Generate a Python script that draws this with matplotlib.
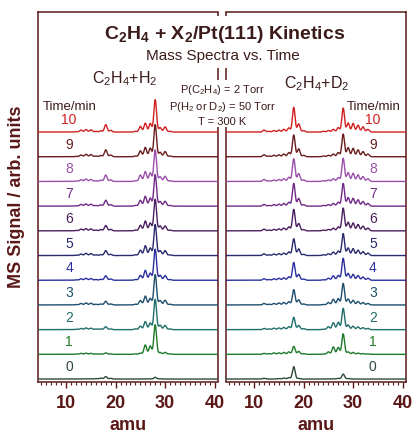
import numpy as np
import matplotlib
matplotlib.use('Agg')
import matplotlib.pyplot as plt
from matplotlib.ticker import MultipleLocator

plt.rcParams['font.family'] = ['Liberation Sans', 'DejaVu Sans']
plt.rcParams['mathtext.fontset'] = 'custom'
plt.rcParams['mathtext.rm'] = 'Liberation Sans'
plt.rcParams['mathtext.it'] = 'Liberation Sans:italic'
plt.rcParams['mathtext.bf'] = 'Liberation Sans:bold'

# time in minutes, one trace per time
times = [0, 1, 2, 3, 4, 5, 6, 7, 8, 9, 10]
trace_colors = ['#2e4a3a', '#1e7a2a', '#1f6e6a', '#1f4e6e', '#2a30a0', '#2a2a6e',
                '#4a2060', '#702a88', '#9a50aa', '#6a1c1c', '#d02020']

# C2H4 + H2 : peak amplitudes per mass (rows = time)
h2_masses = [12, 13, 14, 15, 16, 17, 18, 19, 24, 25, 26, 27, 28, 29, 30, 31]
h2_amps = [
    [0.00, 0.00, 0.01, 0.01, 0.02, 0.04, 0.10, 0.03, 0.00, 0.00, 0.00, 0.01, 0.07, 0.01, 0.00, 0.00],
    [0.02, 0.04, 0.05, 0.04, 0.02, 0.02, 0.06, 0.02, 0.02, 0.05, 0.38, 0.34, 1.20, 0.08, 0.08, 0.02],
    [0.02, 0.05, 0.07, 0.06, 0.03, 0.03, 0.12, 0.03, 0.03, 0.14, 0.33, 0.27, 1.23, 0.18, 0.17, 0.03],
    [0.02, 0.06, 0.08, 0.07, 0.03, 0.04, 0.15, 0.04, 0.03, 0.18, 0.36, 0.27, 1.23, 0.18, 0.19, 0.03],
    [0.02, 0.06, 0.08, 0.07, 0.03, 0.04, 0.18, 0.05, 0.03, 0.20, 0.40, 0.29, 1.26, 0.20, 0.19, 0.03],
    [0.02, 0.06, 0.09, 0.08, 0.03, 0.04, 0.20, 0.05, 0.03, 0.22, 0.40, 0.31, 1.26, 0.20, 0.20, 0.03],
    [0.02, 0.07, 0.09, 0.08, 0.03, 0.05, 0.22, 0.06, 0.03, 0.23, 0.40, 0.32, 1.28, 0.20, 0.20, 0.03],
    [0.02, 0.07, 0.09, 0.08, 0.03, 0.05, 0.24, 0.06, 0.03, 0.24, 0.40, 0.33, 1.28, 0.19, 0.20, 0.03],
    [0.02, 0.07, 0.10, 0.08, 0.03, 0.05, 0.26, 0.06, 0.03, 0.26, 0.40, 0.35, 1.28, 0.19, 0.21, 0.03],
    [0.02, 0.07, 0.10, 0.09, 0.03, 0.05, 0.28, 0.07, 0.03, 0.24, 0.38, 0.35, 1.30, 0.18, 0.21, 0.03],
    [0.02, 0.08, 0.10, 0.09, 0.03, 0.05, 0.30, 0.07, 0.03, 0.23, 0.36, 0.35, 1.31, 0.18, 0.21, 0.03],
]

# C2H4 + D2
d2_masses = [12, 13, 14, 15, 16, 17, 18, 19, 20, 24, 25, 26, 27, 28, 29, 30, 31, 32, 33]
d2_amps = [
    [0.03, 0.00, 0.01, 0.02, 0.04, 0.06, 0.50, 0.03, 0.00, 0.00, 0.00, 0.01, 0.03, 0.20, 0.02, 0.00, 0.00, 0.00, 0.00],
    [0.04, 0.03, 0.06, 0.06, 0.08, 0.10, 0.32, 0.12, 0.03, 0.02, 0.10, 0.30, 0.28, 0.83, 0.10, 0.08, 0.05, 0.03, 0.02],
    [0.05, 0.03, 0.06, 0.07, 0.09, 0.12, 0.50, 0.17, 0.04, 0.02, 0.12, 0.28, 0.30, 0.86, 0.19, 0.14, 0.11, 0.08, 0.05],
    [0.06, 0.03, 0.06, 0.08, 0.10, 0.13, 0.62, 0.21, 0.04, 0.02, 0.10, 0.23, 0.26, 0.87, 0.24, 0.19, 0.14, 0.10, 0.06],
    [0.06, 0.03, 0.06, 0.08, 0.10, 0.14, 0.72, 0.24, 0.05, 0.02, 0.08, 0.18, 0.20, 0.89, 0.28, 0.24, 0.19, 0.13, 0.08],
    [0.07, 0.03, 0.06, 0.08, 0.10, 0.15, 0.68, 0.27, 0.05, 0.03, 0.07, 0.14, 0.18, 0.89, 0.31, 0.28, 0.22, 0.16, 0.10],
    [0.07, 0.03, 0.06, 0.08, 0.11, 0.16, 0.87, 0.30, 0.05, 0.03, 0.06, 0.11, 0.16, 0.92, 0.35, 0.32, 0.26, 0.19, 0.11],
    [0.07, 0.03, 0.06, 0.08, 0.11, 0.16, 0.92, 0.31, 0.06, 0.03, 0.06, 0.11, 0.16, 0.92, 0.35, 0.32, 0.26, 0.19, 0.11],
    [0.08, 0.03, 0.06, 0.08, 0.11, 0.17, 0.92, 0.32, 0.06, 0.03, 0.06, 0.11, 0.16, 0.94, 0.36, 0.33, 0.27, 0.20, 0.11],
    [0.08, 0.03, 0.06, 0.08, 0.11, 0.17, 0.88, 0.32, 0.06, 0.03, 0.06, 0.11, 0.17, 0.92, 0.37, 0.34, 0.28, 0.21, 0.11],
    [0.08, 0.03, 0.06, 0.08, 0.11, 0.17, 1.00, 0.33, 0.06, 0.03, 0.06, 0.11, 0.18, 0.97, 0.37, 0.35, 0.28, 0.21, 0.11],
]

frame = '#5a1818'
dark = '#3b1a1a'
W, H = 413, 433
amu = np.arange(4.3, 40.7, 0.02)


def spectrum(masses, amps, sigma=0.27):
    y = np.zeros_like(amu)
    for m, a in zip(masses, amps):
        y += a * np.exp(-0.5 * ((amu - m) / sigma) ** 2)
    return y


def fx(px):
    return px / W


def fy(py):
    return 1 - py / H


fig = plt.figure(figsize=(W / 100, H / 100), dpi=100)
ax1 = fig.add_axes([fx(38), fy(382), fx(218) - fx(38), fy(12) - fy(382)])
ax2 = fig.add_axes([fx(226), fy(382), fx(406) - fx(226), fy(12) - fy(382)])


def af(py):
    # pixel row -> axes fraction
    return (382 - py) / 370


for ax, masses, amps, lab_x, side in [(ax1, h2_masses, h2_amps, 10.6, 'right'),
                                      (ax2, d2_masses, d2_amps, 34.0, 'left')]:
    for k, t in enumerate(times):
        y = spectrum(masses, amps[k]) + k
        ax.plot(amu, y, color=trace_colors[k], lw=1.0, zorder=20 - k)
        ax.text(lab_x, k + 0.2, str(t), color=trace_colors[k], fontsize=10,
                ha='center', va='bottom')
    ax.set_xlim(4.3, 40.7)
    ax.set_ylim(-0.12, 14.86)
    ax.set_yticks([])
    ax.set_xticks([10, 20, 30, 40])
    ax.xaxis.set_minor_locator(MultipleLocator(1))
    ax.tick_params(axis='x', which='major', direction='out', length=4, width=1,
                   color=frame, labelsize=13, labelcolor=frame, pad=5)
    ax.tick_params(axis='x', which='minor', direction='out', length=2, width=0.8,
                   color=frame)
    for lbl in ax.get_xticklabels():
        lbl.set_fontweight('bold')
    ax.set_xlabel('amu', fontsize=13, fontweight='bold', color=frame, labelpad=4)
    for s in ax.spines.values():
        s.set_color(frame)
        s.set_linewidth(1.1)
    # broken inner edge of the frame
    ax.spines[side].set_visible(False)
    xe = 1 if side == 'right' else 0
    for a, b in [(12, 16), (68, 80), (127, 382)]:
        ax.plot([xe, xe], [af(a), af(b)], transform=ax.transAxes, color=frame,
                lw=1.1, clip_on=False, solid_capstyle='butt')

fig.text(fx(17), fy(197), 'MS Signal / arb. units', rotation=90, fontsize=13,
         fontweight='bold', color=frame, ha='center', va='center')

fig.text(fx(225), fy(39), r'C$_\mathbf{2}$H$_\mathbf{4}$ + X$_\mathbf{2}$/Pt(111) Kinetics',
         fontsize=14, fontweight='bold', color=dark, ha='center', va='baseline')
fig.text(fx(223), fy(60), 'Mass Spectra vs. Time', fontsize=11, color=dark,
         ha='center', va='baseline')
fig.text(fx(125), fy(83), r'C$_2$H$_4$+H$_2$', fontsize=11.5, color=dark,
         ha='center', va='baseline')
fig.text(fx(317), fy(88), r'C$_2$H$_4$+D$_2$', fontsize=11.5, color=dark,
         ha='center', va='baseline')
fig.text(fx(222), fy(93), r'P(C$_2$H$_4$) = 2 Torr', fontsize=8, color=dark,
         ha='center', va='baseline')
fig.text(fx(222), fy(110), r'P(H$_2$ or D$_2$) = 50 Torr', fontsize=8, color=dark,
         ha='center', va='baseline')
fig.text(fx(222), fy(125), 'T = 300 K', fontsize=8, color=dark,
         ha='center', va='baseline')
fig.text(fx(70), fy(110), 'Time/min', fontsize=9.5, color=dark, ha='center', va='baseline')
fig.text(fx(374), fy(110), 'Time/min', fontsize=9.5, color=dark, ha='center', va='baseline')

fig.savefig('out.png', dpi=100)
